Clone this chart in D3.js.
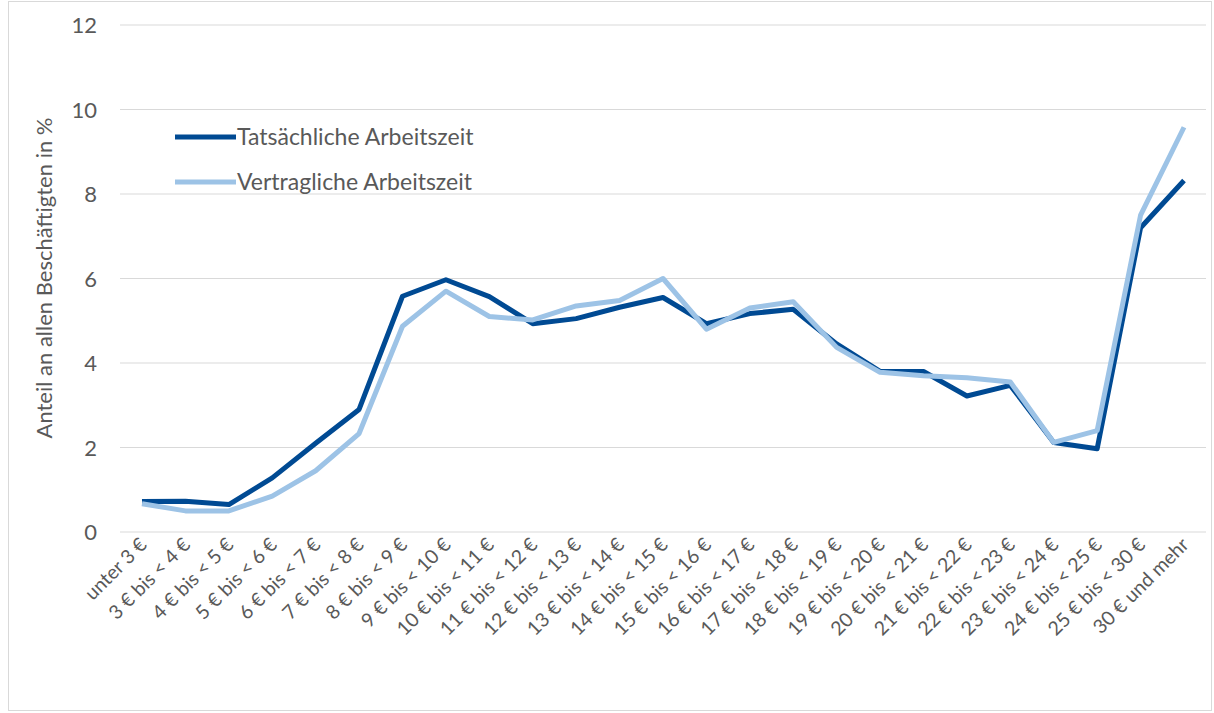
<!DOCTYPE html>
<html><head><meta charset="utf-8">
<script src="https://cdn.jsdelivr.net/npm/d3@7"></script>
<style>body{margin:0;background:#fff;font-family:Lato,"Open Sans",sans-serif;}</style>
</head><body>
<svg id="chart" width="1214" height="713"></svg>
<script>
// Stundenlohn-Klassen
var categories = ["unter 3 €","3 € bis < 4 €","4 € bis < 5 €","5 € bis < 6 €","6 € bis < 7 €","7 € bis < 8 €","8 € bis < 9 €","9 € bis < 10 €","10 € bis < 11 €","11 € bis < 12 €","12 € bis < 13 €","13 € bis < 14 €","14 € bis < 15 €","15 € bis < 16 €","16 € bis < 17 €","17 € bis < 18 €","18 € bis < 19 €","19 € bis < 20 €","20 € bis < 21 €","21 € bis < 22 €","22 € bis < 23 €","23 € bis < 24 €","24 € bis < 25 €","25 € bis < 30 €","30 € und mehr"];
var tatsaechlich = [0.72,0.73,0.65,1.28,2.1,2.9,5.58,5.97,5.57,4.93,5.05,5.32,5.55,4.93,5.17,5.27,4.45,3.8,3.8,3.22,3.47,2.12,1.97,7.2,8.32];
var vertraglich = [0.67,0.5,0.5,0.85,1.45,2.33,4.87,5.7,5.1,5.02,5.35,5.48,6.0,4.8,5.3,5.45,4.37,3.78,3.7,3.65,3.55,2.12,2.4,7.5,9.58];
var yTicks = [0,2,4,6,8,10,12];

var svg = d3.select("#chart");
svg.append("rect").attr("x",8.5).attr("y",1.5).attr("width",1203).attr("height",709)
  .attr("fill","none").attr("stroke","#d9d9d9");

var x = d3.scalePoint().domain(categories).range([142,1184]);
var y = d3.scaleLinear().domain([0,12]).range([532,25]);

// Gitterlinien
svg.append("g").selectAll("line").data(yTicks).join("line")
  .attr("x1",120).attr("x2",1206).attr("y1",d=>y(d)).attr("y2",d=>y(d))
  .attr("stroke","#d9d9d9").attr("stroke-width",1);

svg.append("g").selectAll("text").data(yTicks).join("text")
  .attr("x",97).attr("y",d=>y(d)+8).attr("text-anchor","end")
  .attr("font-size",22).attr("fill","#595959").text(d=>d);

svg.append("text").attr("transform","translate(52,278) rotate(-90)")
  .attr("text-anchor","middle").attr("font-size",22).attr("fill","#595959")
  .text("Anteil an allen Beschäftigten in %");

svg.append("g").selectAll("text").data(categories).join("text")
  .attr("transform",d=>"translate("+(x(d)+6)+",546) rotate(-45)")
  .attr("text-anchor","end").attr("font-size",19.5).attr("fill","#595959").text(d=>d);

var line = d3.line().x((d,i)=>x(categories[i])).y(d=>y(d));
svg.append("path").datum(tatsaechlich).attr("d",line).attr("fill","none")
  .attr("stroke","#004a93").attr("stroke-width",5).attr("stroke-linejoin","round");
svg.append("path").datum(vertraglich).attr("d",line).attr("fill","none")
  .attr("stroke","#9dc3e6").attr("stroke-width",5).attr("stroke-linejoin","round");

// Legende
var legend = [["Tatsächliche Arbeitszeit","#004a93",137],["Vertragliche Arbeitszeit","#9dc3e6",182]];
legend.forEach(function(l){
  svg.append("line").attr("x1",175).attr("x2",236).attr("y1",l[2]).attr("y2",l[2])
    .attr("stroke",l[1]).attr("stroke-width",5);
  svg.append("text").attr("x",237).attr("y",l[2]+8).attr("font-size",23).attr("fill","#595959").text(l[0]);
});
</script>
</body></html>
